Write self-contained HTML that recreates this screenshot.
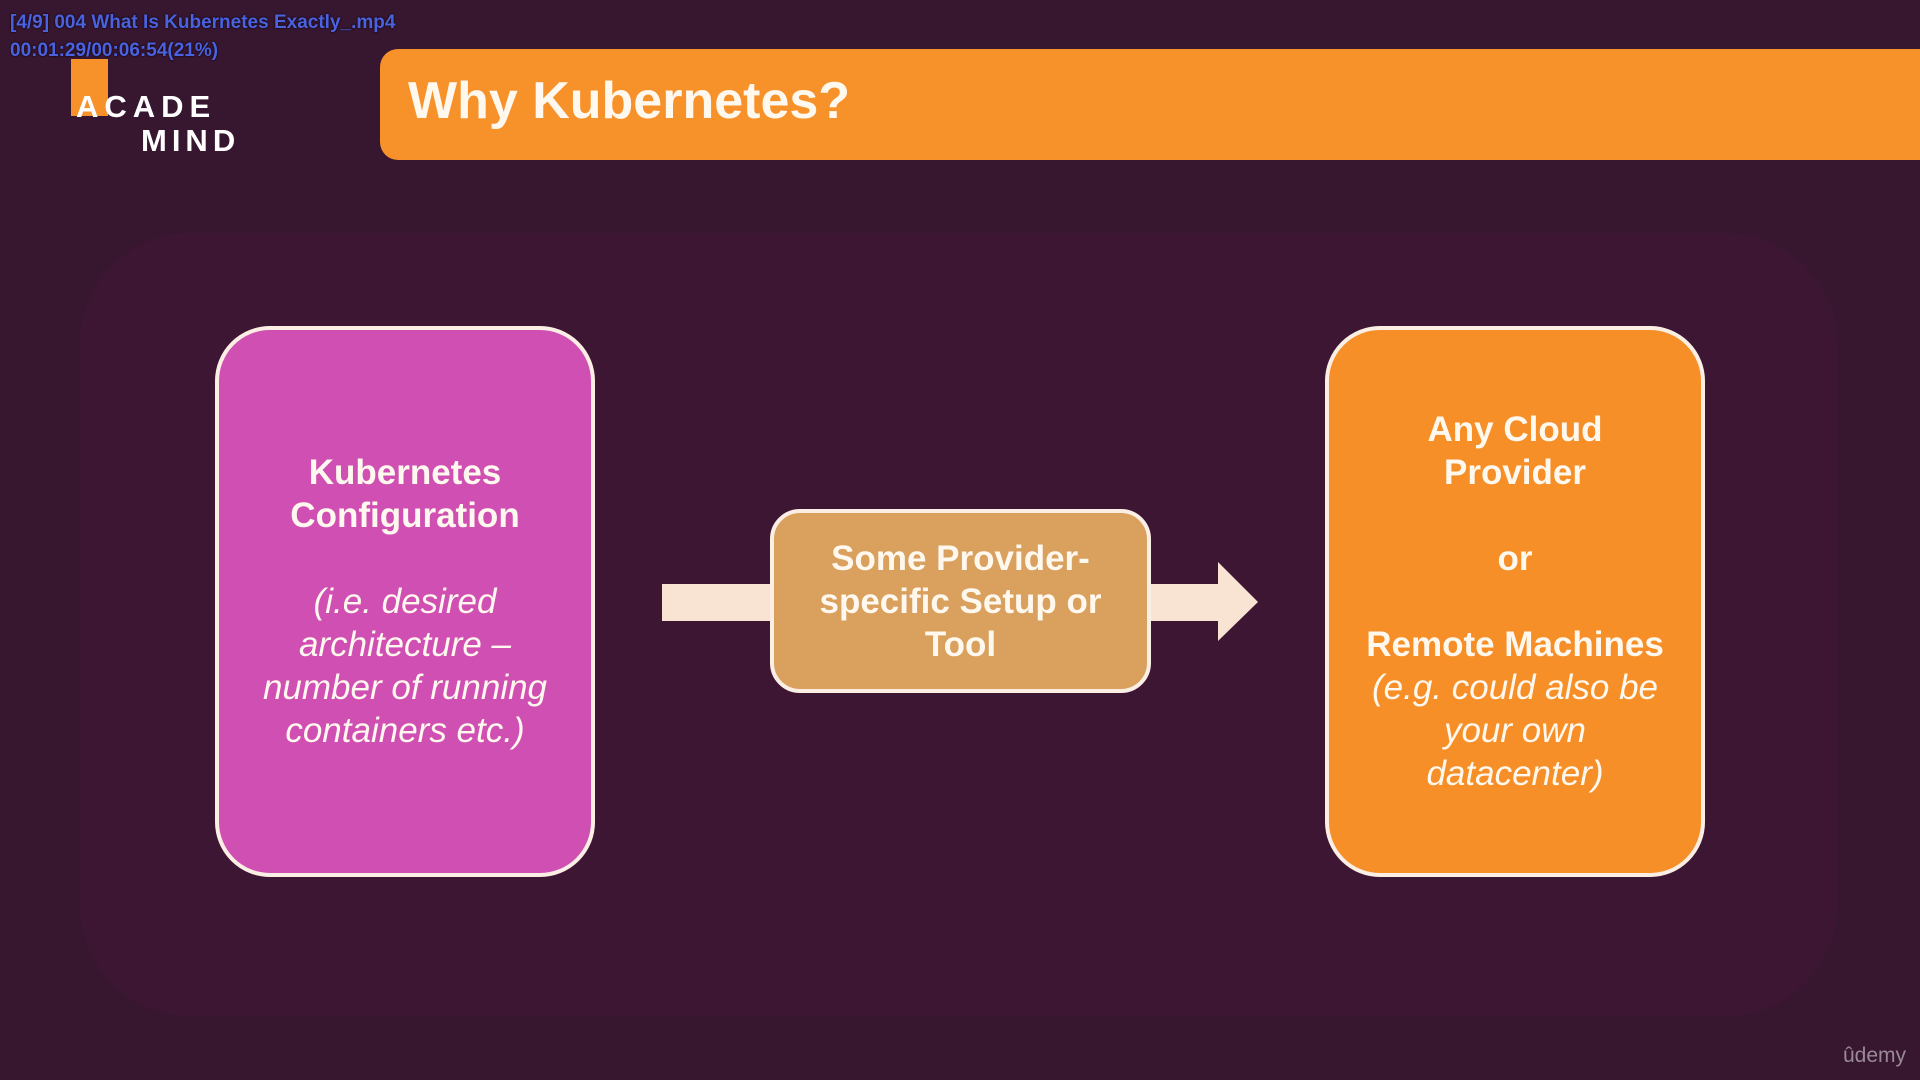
<!DOCTYPE html>
<html><head><meta charset="utf-8"><style>
html,body{margin:0;padding:0}
body{width:1920px;height:1080px;background:#371630;position:relative;overflow:hidden;font-family:"Liberation Sans",sans-serif}
.abs{position:absolute}
.panel{left:80px;top:233px;width:1757px;height:783px;background:#3d1633;border-radius:110px}
.title{left:380px;top:49px;width:1600px;height:111px;background:#f7912a;border-radius:18px}
.title span{position:absolute;left:28px;top:22px;font-size:52px;font-weight:bold;color:#fff8ee}
.box{box-sizing:border-box;border:4px solid #fbeee4;display:flex;flex-direction:column;justify-content:center;align-items:center;text-align:center;color:#fff8ee;font-size:35px;line-height:43px}
.b{font-weight:bold}.i{font-style:italic}
.ov{color:#4a62e0;font-size:19px;font-weight:bold;left:10px;text-shadow:0 0 2px #000}
</style></head><body>
<div class="abs panel"></div>
<div class="abs title"><span>Why Kubernetes?</span></div>
<div class="abs" style="left:71px;top:59px;width:37px;height:57px;background:#f7912a"></div>
<div class="abs" style="left:76px;top:89px;font-size:31px;font-weight:bold;color:#fff;letter-spacing:6px">ACADE</div>
<div class="abs" style="left:141px;top:123px;font-size:31px;font-weight:bold;color:#fff;letter-spacing:5px">MIND</div>
<div class="abs ov" style="top:12px">[4/9] 004 What Is Kubernetes Exactly_.mp4</div>
<div class="abs ov" style="top:40px">00:01:29/00:06:54(21%)</div>
<svg class="abs" style="left:0;top:0" width="1920" height="1080">
<polygon points="662,584 1218,584 1218,562 1258,602 1218,641 1218,621 662,621" fill="#f9e4d4"/>
</svg>
<div class="abs box" style="left:215px;top:326px;width:380px;height:551px;background:#d04fb3;border-radius:55px">
<div class="b">Kubernetes<br>Configuration</div><div>&nbsp;</div><div class="i">(i.e. desired<br>architecture –<br>number of running<br>containers etc.)</div></div>
<div class="abs box" style="left:770px;top:509px;width:381px;height:184px;background:#d9a05e;border-radius:30px">
<div class="b">Some Provider-<br>specific Setup or<br>Tool</div></div>
<div class="abs box" style="left:1325px;top:326px;width:380px;height:551px;background:#f68f28;border-radius:55px">
<div class="b">Any Cloud<br>Provider</div><div>&nbsp;</div><div class="b">or</div><div>&nbsp;</div><div class="b">Remote Machines</div><div class="i">(e.g. could also be<br>your own<br>datacenter)</div></div>
<div class="abs" style="left:1843px;top:1044px;font-size:21px;color:#9a8a96">ûdemy</div>
</body></html>
